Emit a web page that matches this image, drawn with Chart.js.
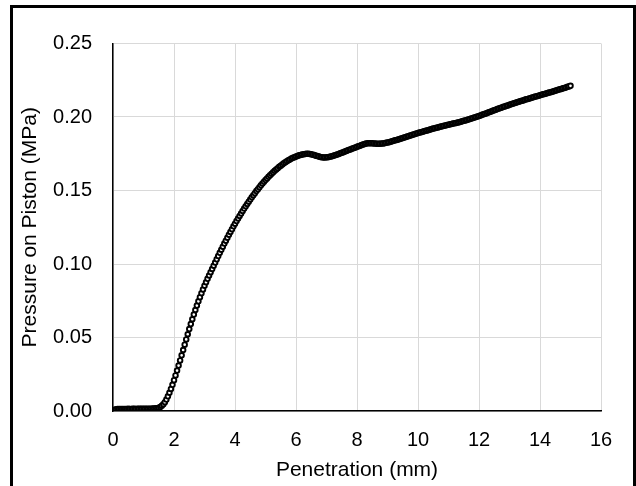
<!DOCTYPE html>
<html>
<head>
<meta charset="utf-8">
<script src="https://cdn.jsdelivr.net/npm/chart.js@4"></script>
<style>
  html, body { margin: 0; padding: 0; background: #fff; overflow: hidden; }
  #wrap { position: relative; width: 636px; height: 486px; }
  #frame { position: absolute; left: 10px; top: 5px; width: 626px; height: 490px; box-sizing: border-box; border: 3px solid #000; pointer-events: none; }
  canvas { position: absolute; left: 0; top: 0; }
</style>
</head>
<body>
<div id="wrap">
  <canvas id="c" width="636" height="486"></canvas>
  <div id="frame"></div>
</div>
<script>
const penetration = [
  0,0.05,0.1,0.15,0.2,0.25,0.3,0.35,0.4,0.45,
  0.5,0.55,0.6,0.65,0.7,0.75,0.8,0.85,0.9,0.95,
  1,1.05,1.1,1.15,1.2,1.25,1.3,1.35,1.4,1.45,
  1.5,1.55,1.6,1.65,1.7,1.75,1.8,1.85,1.9,1.95,
  2,2.05,2.1,2.15,2.2,2.25,2.3,2.35,2.4,2.45,
  2.5,2.55,2.6,2.65,2.7,2.75,2.8,2.85,2.9,2.95,
  3,3.05,3.1,3.15,3.2,3.25,3.3,3.35,3.4,3.45,
  3.5,3.55,3.6,3.65,3.7,3.75,3.8,3.85,3.9,3.95,
  4,4.05,4.1,4.15,4.2,4.25,4.3,4.35,4.4,4.45,
  4.5,4.55,4.6,4.65,4.7,4.75,4.8,4.85,4.9,4.95,
  5,5.05,5.1,5.15,5.2,5.25,5.3,5.35,5.4,5.45,
  5.5,5.55,5.6,5.65,5.7,5.75,5.8,5.85,5.9,5.95,
  6,6.05,6.1,6.15,6.2,6.25,6.3,6.35,6.4,6.45,
  6.5,6.55,6.6,6.65,6.7,6.75,6.8,6.85,6.9,6.95,
  7,7.05,7.1,7.15,7.2,7.25,7.3,7.35,7.4,7.45,
  7.5,7.55,7.6,7.65,7.7,7.75,7.8,7.85,7.9,7.95,
  8,8.05,8.1,8.15,8.2,8.25,8.3,8.35,8.4,8.45,
  8.5,8.55,8.6,8.65,8.7,8.75,8.8,8.85,8.9,8.95,
  9,9.05,9.1,9.15,9.2,9.25,9.3,9.35,9.4,9.45,
  9.5,9.55,9.6,9.65,9.7,9.75,9.8,9.85,9.9,9.95,
  10,10.05,10.1,10.15,10.2,10.25,10.3,10.35,10.4,10.45,
  10.5,10.55,10.6,10.65,10.7,10.75,10.8,10.85,10.9,10.95,
  11,11.05,11.1,11.15,11.2,11.25,11.3,11.35,11.4,11.45,
  11.5,11.55,11.6,11.65,11.7,11.75,11.8,11.85,11.9,11.95,
  12,12.05,12.1,12.15,12.2,12.25,12.3,12.35,12.4,12.45,
  12.5,12.55,12.6,12.65,12.7,12.75,12.8,12.85,12.9,12.95,
  13,13.05,13.1,13.15,13.2,13.25,13.3,13.35,13.4,13.45,
  13.5,13.55,13.6,13.65,13.7,13.75,13.8,13.85,13.9,13.95,
  14,14.05,14.1,14.15,14.2,14.25,14.3,14.35,14.4,14.45,
  14.5,14.55,14.6,14.65,14.7,14.75,14.8,14.85,14.9,14.95,
  15
];
const pressure = [
  0,0.0008,0.0012,0.0013,0.0013,0.0014,0.0014,0.0013,0.0014,0.0014,
  0.0015,0.0014,0.0014,0.0015,0.0015,0.0014,0.0015,0.0015,0.0016,0.0015,
  0.0015,0.0016,0.0016,0.0015,0.0016,0.0016,0.0017,0.0017,0.0018,0.0019,
  0.0022,0.0028,0.0036,0.0046,0.0060,0.0078,0.0100,0.0124,0.0150,0.0178,
  0.0210,0.0242,0.0275,0.0309,0.0344,0.0379,0.0415,0.0451,0.0487,0.0522,
  0.0557,0.0591,0.0624,0.0656,0.0687,0.0717,0.0746,0.0774,0.0801,0.0827,
  0.0852,0.0876,0.0899,0.0922,0.0944,0.0966,0.0988,0.1010,0.1032,0.1054,
  0.1076,0.1097,0.1118,0.1139,0.1159,0.1179,0.1199,0.1218,0.1237,0.1256,
  0.1274,0.1292,0.1310,0.1327,0.1344,0.1361,0.1377,0.1393,0.1409,0.1424,
  0.1439,0.1454,0.1468,0.1482,0.1496,0.1509,0.1522,0.1535,0.1547,0.1559,
  0.1571,0.1582,0.1593,0.1604,0.1614,0.1624,0.1634,0.1643,0.1652,0.1661,
  0.1669,0.1677,0.1685,0.1692,0.1699,0.1705,0.1711,0.1717,0.1722,0.1727,
  0.1731,0.1735,0.1739,0.1742,0.1745,0.1747,0.1749,0.1750,0.1750,0.1749,
  0.1747,0.1744,0.1741,0.1737,0.1734,0.1731,0.1728,0.1726,0.1725,0.1725,
  0.1726,0.1727,0.1729,0.1732,0.1735,0.1738,0.1741,0.1745,0.1749,0.1753,
  0.1757,0.1761,0.1765,0.1769,0.1773,0.1777,0.1781,0.1785,0.1789,0.1793,
  0.1797,0.1801,0.1805,0.1809,0.1813,0.1816,0.1819,0.1821,0.1822,0.1822,
  0.1821,0.1820,0.1819,0.1818,0.1818,0.1818,0.1819,0.1820,0.1822,0.1824,
  0.1826,0.1829,0.1832,0.1835,0.1838,0.1841,0.1844,0.1847,0.1850,0.1854,
  0.1857,0.1860,0.1864,0.1867,0.1871,0.1874,0.1878,0.1881,0.1885,0.1888,
  0.1891,0.1894,0.1897,0.1900,0.1903,0.1906,0.1909,0.1912,0.1915,0.1918,
  0.1921,0.1924,0.1927,0.1929,0.1932,0.1935,0.1937,0.1940,0.1942,0.1945,
  0.1947,0.1950,0.1952,0.1955,0.1957,0.1960,0.1962,0.1965,0.1968,0.1971,
  0.1974,0.1977,0.1980,0.1983,0.1986,0.1989,0.1993,0.1996,0.2000,0.2003,
  0.2007,0.2011,0.2015,0.2018,0.2022,0.2026,0.2030,0.2034,0.2038,0.2042,
  0.2046,0.2050,0.2054,0.2057,0.2061,0.2065,0.2069,0.2072,0.2076,0.2079,
  0.2083,0.2086,0.2090,0.2093,0.2097,0.2100,0.2103,0.2107,0.2110,0.2113,
  0.2117,0.2120,0.2123,0.2126,0.2130,0.2133,0.2136,0.2139,0.2142,0.2145,
  0.2148,0.2151,0.2154,0.2157,0.2160,0.2163,0.2166,0.2169,0.2172,0.2175,
  0.2178,0.2182,0.2185,0.2188,0.2191,0.2195,0.2198,0.2201,0.2205,0.2208,
  0.2212
];
const xTickLabels = ['0','2','4','6','8','10','12','14','16'];
const yTickLabels = ['0.00','0.05','0.10','0.15','0.20','0.25'];
const xTitle = 'Penetration (mm)';
const yTitle = 'Pressure on Piston (MPa)';

const points = penetration.map((x, i) => ({ x: x, y: pressure[i] }));
const TICK_FONT = { family: "'Liberation Sans', Arial, sans-serif", size: 20 };
const TITLE_FONT = { family: "'Liberation Sans', Arial, sans-serif", size: 21 };

new Chart(document.getElementById('c'), {
  type: 'scatter',
  data: {
    datasets: [{
      data: points,
      pointStyle: 'circle',
      pointRadius: 2.3,
      pointBorderWidth: 1.9,
      pointBackgroundColor: '#ffffff',
      pointBorderColor: '#000000',
      showLine: false
    }]
  },
  options: {
    responsive: false,
    animation: false,
    devicePixelRatio: 1,
    events: [],
    layout: { padding: { left: 0, top: 43.5, right: 35, bottom: 0 } },
    plugins: { legend: { display: false }, tooltip: { enabled: false } },
    scales: {
      x: {
        type: 'linear',
        min: 0, max: 16,
        ticks: {
          stepSize: 2,
          color: '#000',
          font: TICK_FONT,
          padding: 17,
          maxRotation: 0,
          callback: (v, i) => xTickLabels[i]
        },
        grid: { color: '#d9d9d9', lineWidth: 1, drawTicks: false },
        border: { color: '#000', width: 1.5 },
        title: { display: true, text: xTitle, color: '#000', font: TITLE_FONT, padding: { top: 0, bottom: 3 } },
        afterFit: (s) => { s.height = 75; }
      },
      y: {
        type: 'linear',
        min: 0, max: 0.25,
        ticks: {
          stepSize: 0.05,
          color: '#000',
          font: TICK_FONT,
          padding: 21,
          callback: (v, i) => yTickLabels[i]
        },
        grid: { color: '#d9d9d9', lineWidth: 1, drawTicks: false },
        border: { color: '#000', width: 1.5 },
        title: { display: true, text: yTitle, color: '#000', font: TITLE_FONT, padding: { top: 17.5, bottom: 0 } },
        afterFit: (s) => { s.width = 113; }
      }
    }
  }
});
</script>
</body>
</html>
